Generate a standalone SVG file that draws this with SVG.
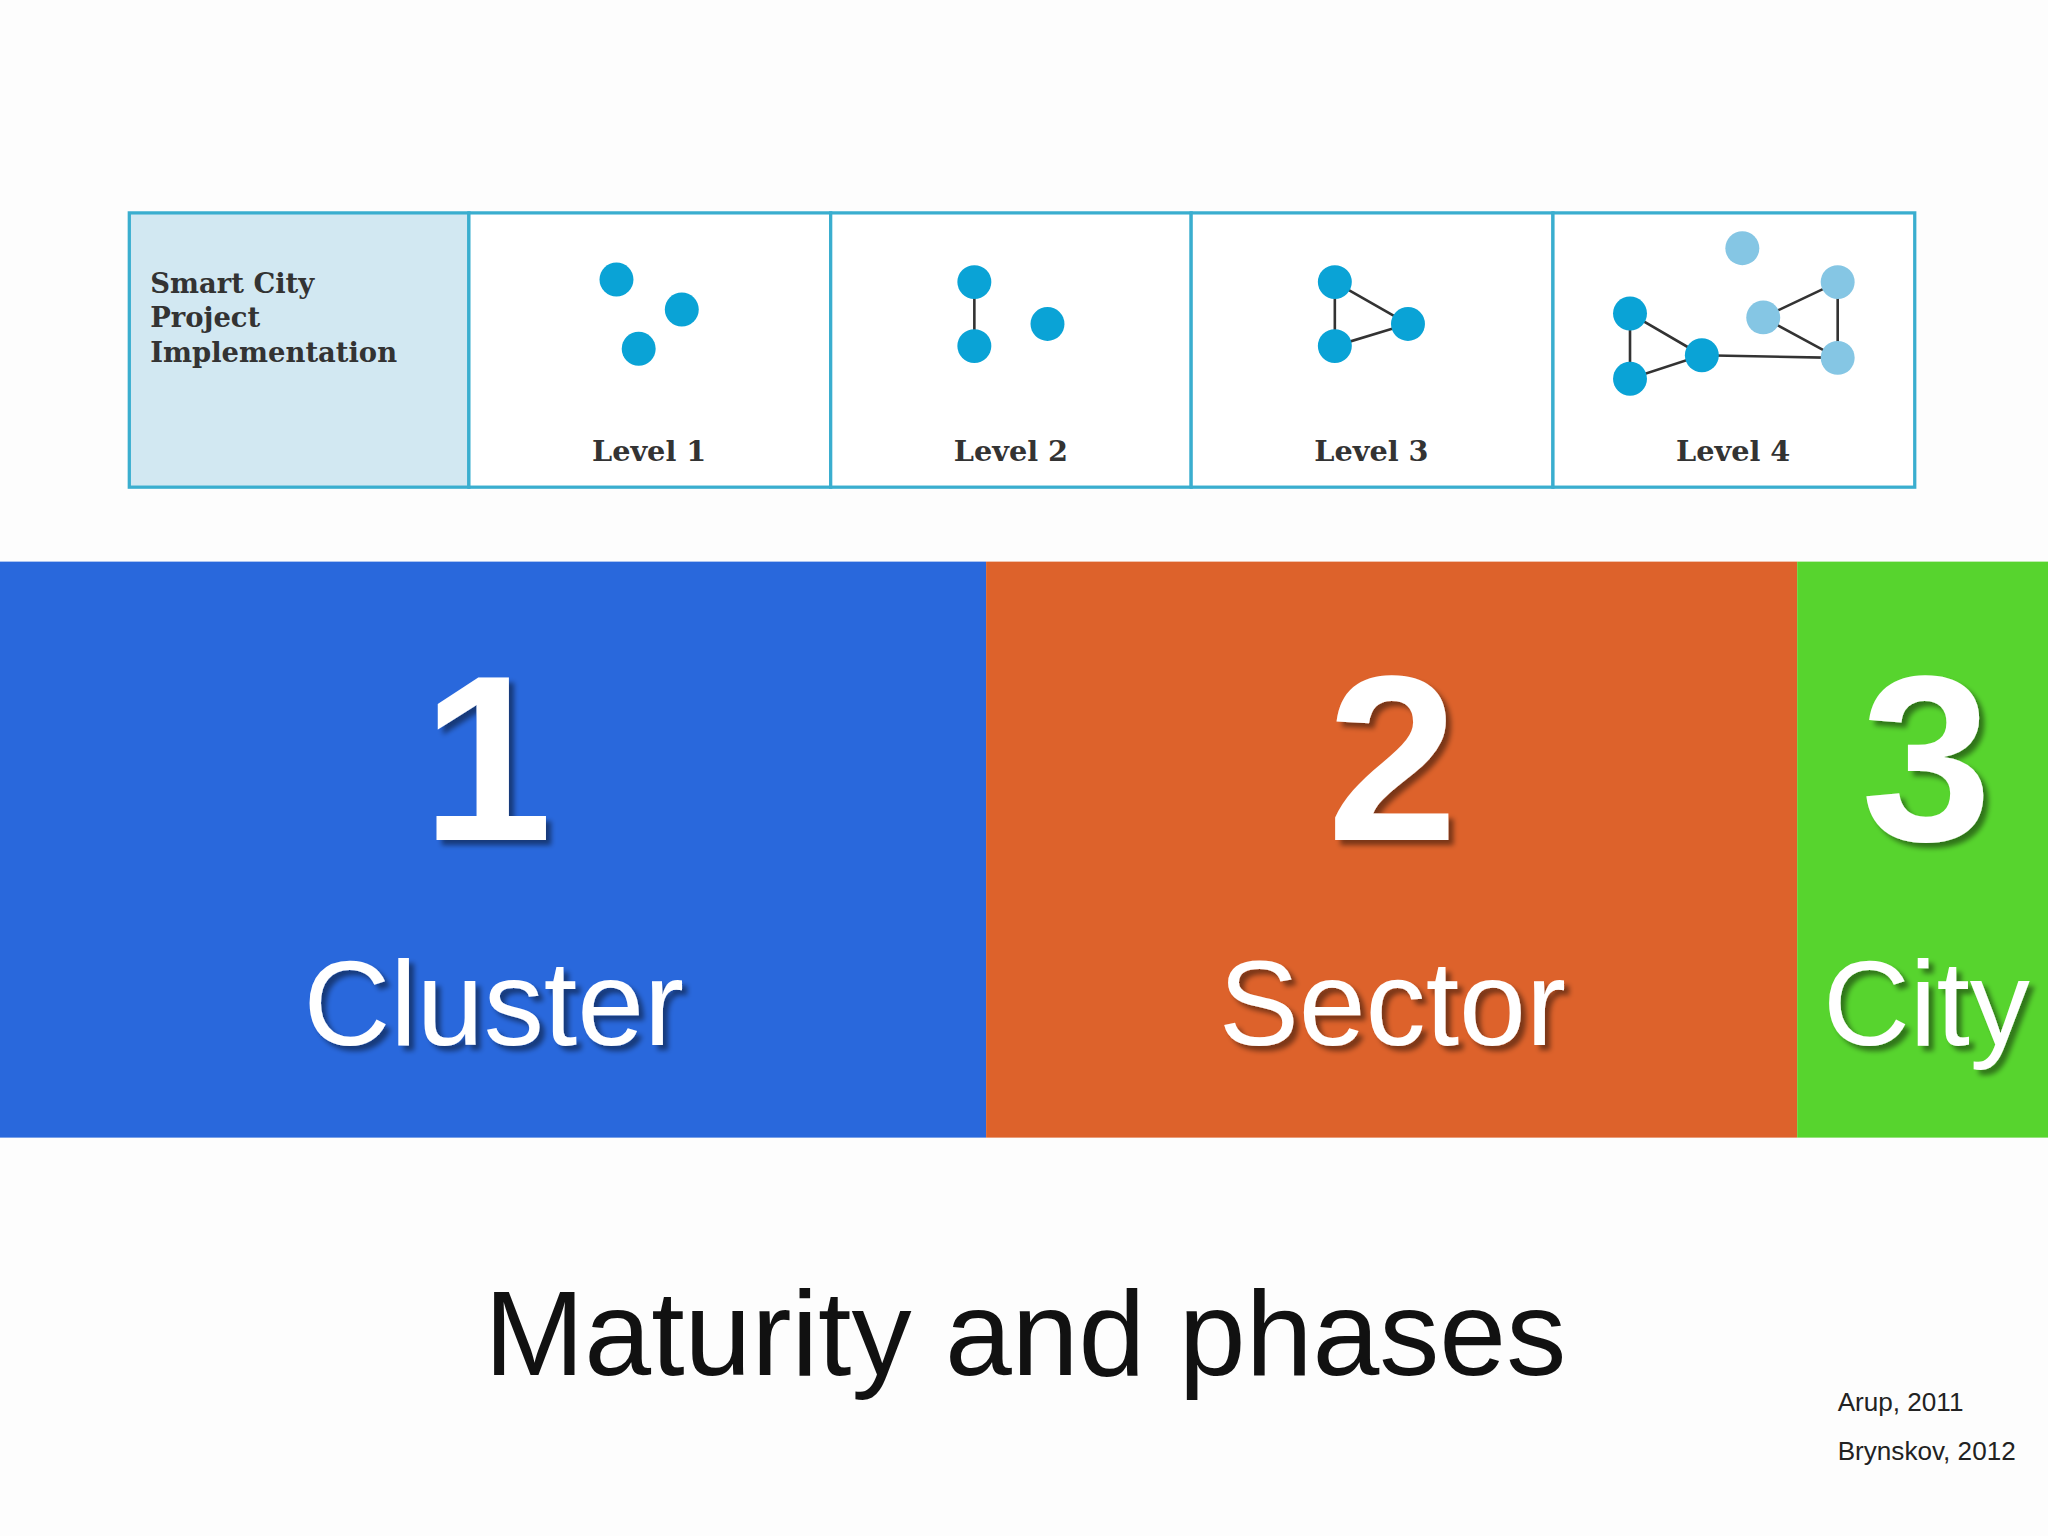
<svg xmlns="http://www.w3.org/2000/svg" width="2048" height="1536" viewBox="0 0 2048 1536">
<defs>
<style>
.cell{fill:#fff;stroke:#3aaecf;stroke-width:2.5}
.lv{font-family:"DejaVu Serif","Liberation Serif",serif;font-weight:bold;font-size:22px;fill:#333;text-anchor:middle}
.d{fill:#0aa3d6}
.l{fill:#85c6e4}
.e{stroke:#333;stroke-width:2;fill:none}
.big{font-family:"Liberation Sans",Arial,sans-serif;font-weight:bold;fill:#fff;text-anchor:middle;font-size:180px}
.name{font-family:"Liberation Sans",Arial,sans-serif;fill:#fff;text-anchor:middle;font-size:92px}
</style>
<filter id="sh" x="-10%" y="-10%" width="130%" height="130%"><feDropShadow dx="4" dy="4" stdDeviation="2" flood-color="#000" flood-opacity="0.45"/></filter>
</defs>
<rect width="2048" height="1536" fill="#fdfdfd"/>
<g transform="scale(1.3061)">
<g id="table">
<rect x="99" y="163" width="260" height="210" fill="#d2e8f2" stroke="#3aaecf" stroke-width="2.5"/>
<text font-family="DejaVu Serif,Liberation Serif,serif" font-weight="bold" font-size="21" fill="#333"><tspan x="115" y="224">Smart City</tspan><tspan x="115" y="250">Project</tspan><tspan x="115" y="277">Implementation</tspan></text>
</g>
<g id="level1"><rect class="cell" x="359" y="163" width="277" height="210"/>
<circle class="d" cx="472" cy="214" r="13"/><circle class="d" cx="522" cy="237" r="13"/><circle class="d" cx="489" cy="267" r="13"/>
<text class="lv" x="497" y="353">Level 1</text></g>
<g id="level2"><rect class="cell" x="636" y="163" width="276" height="210"/>
<line class="e" x1="746" y1="216" x2="746" y2="265"/>
<circle class="d" cx="746" cy="216" r="13"/><circle class="d" cx="746" cy="265" r="13"/><circle class="d" cx="802" cy="248" r="13"/>
<text class="lv" x="774" y="353">Level 2</text></g>
<g id="level3"><rect class="cell" x="912" y="163" width="277" height="210"/>
<polygon class="e" points="1022,216 1078,248 1022,265"/>
<circle class="d" cx="1022" cy="216" r="13"/><circle class="d" cx="1078" cy="248" r="13"/><circle class="d" cx="1022" cy="265" r="13"/>
<text class="lv" x="1050" y="353">Level 3</text></g>
<g id="level4"><rect class="cell" x="1189" y="163" width="277" height="210"/>
<polygon class="e" points="1248,240 1303,272 1248,290"/>
<line class="e" x1="1303" y1="272" x2="1407" y2="274"/>
<polygon class="e" points="1407,216 1350,243 1407,274"/>
<circle class="l" cx="1334" cy="190" r="13"/><circle class="l" cx="1407" cy="216" r="13"/><circle class="l" cx="1350" cy="243" r="13"/><circle class="l" cx="1407" cy="274" r="13"/>
<circle class="d" cx="1248" cy="240" r="13"/><circle class="d" cx="1248" cy="290" r="13"/><circle class="d" cx="1303" cy="272" r="13"/>
<text class="lv" x="1327" y="353">Level 4</text></g>
<g id="cluster"><rect x="0" y="430" width="755" height="441" fill="#2968dc"/>
<text class="big" x="373" y="643" filter="url(#sh)">1</text>
<text class="name" x="378" y="800" filter="url(#sh)">Cluster</text></g>
<g id="sector"><rect x="755" y="430" width="621" height="441" fill="#dd622b"/>
<text class="big" x="1066" y="643" filter="url(#sh)">2</text>
<text class="name" x="1066" y="800" filter="url(#sh)">Sector</text></g>
<g id="city"><rect x="1376" y="430" width="193" height="441" fill="#57d42e"/>
<text class="big" x="1475" y="643" filter="url(#sh)">3</text>
<text class="name" x="1475" y="800" filter="url(#sh)">City</text></g>
<text x="785" y="1053" font-family="Liberation Sans,Arial,sans-serif" font-size="92" fill="#111" text-anchor="middle">Maturity and phases</text>
<text x="1407" y="1080" font-family="Liberation Sans,Arial,sans-serif" font-size="20" fill="#222">Arup, 2011</text>
<text x="1407" y="1118" font-family="Liberation Sans,Arial,sans-serif" font-size="20" fill="#222">Brynskov, 2012</text>
</g>
</svg>
